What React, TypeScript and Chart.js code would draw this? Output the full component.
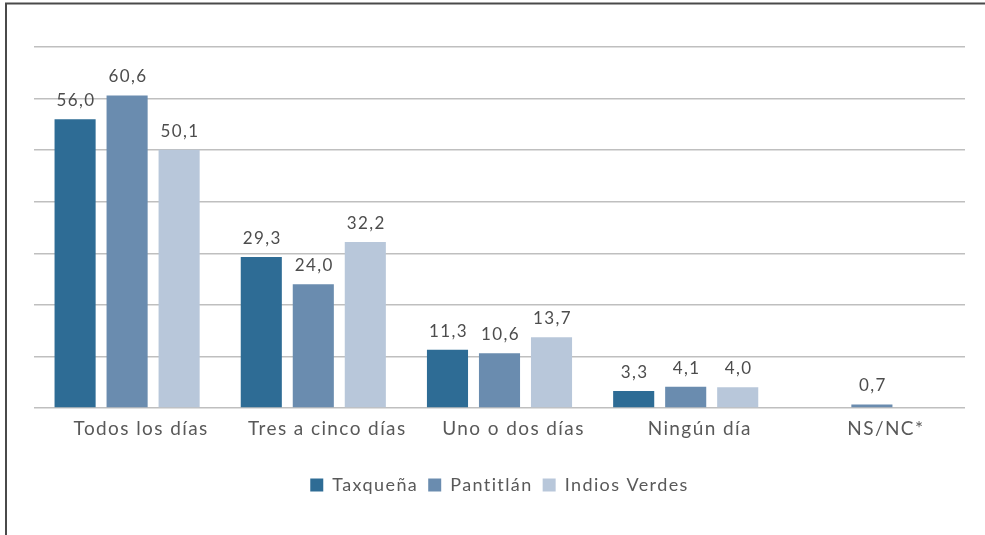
import React, { useEffect, useRef } from "react";
import { Chart, registerables } from "chart.js";

Chart.register(...registerables);

const categories = ["Todos los días", "Tres a cinco días", "Uno o dos días", "Ningún día", "NS/NC*"];
const taxquena = [56.0, 29.3, 11.3, 3.3, null];
const pantitlan = [60.6, 24.0, 10.6, 4.1, 0.7];
const indiosVerdes = [50.1, 32.2, 13.7, 4.0, null];
const seriesNames = ["Taxqueña", "Pantitlán", "Indios Verdes"];
const seriesColors = ["#2E6C95", "#6A8CAF", "#B8C7DA"];

const FONT = "Lato, 'Open Sans', sans-serif";
const SPACING = "1.4px";

const spacing = {
  id: "spacing",
  beforeUpdate(chart: any) {
    chart.ctx.letterSpacing = SPACING;
  },
  beforeLayout(chart: any) {
    chart.ctx.letterSpacing = SPACING;
  },
  beforeDraw(chart: any) {
    chart.ctx.letterSpacing = SPACING;
  },
};

const frame = {
  id: "frame",
  afterDraw(chart: any) {
    const ctx = chart.ctx;
    ctx.save();
    ctx.strokeStyle = "#4a4a4a";
    ctx.lineWidth = 2;
    ctx.beginPath();
    ctx.moveTo(6, 535);
    ctx.lineTo(6, 3.5);
    ctx.lineTo(985, 3.5);
    ctx.stroke();
    ctx.restore();
  },
};

const dataLabels = {
  id: "dataLabels",
  afterDatasetsDraw(chart: any) {
    const ctx = chart.ctx;
    ctx.save();
    ctx.letterSpacing = SPACING;
    ctx.font = `17px ${FONT}`;
    ctx.fillStyle = "#4d4d4d";
    ctx.textAlign = "center";
    ctx.textBaseline = "bottom";
    chart.data.datasets.forEach((ds: any, i: number) => {
      const meta = chart.getDatasetMeta(i);
      meta.data.forEach((el: any, j: number) => {
        const v = ds.data[j];
        if (v === null || v === undefined) return;
        const txt = v.toFixed(1).replace(".", ",");
        ctx.fillText(txt, el.x + 1, el.y - 10);
      });
    });
    ctx.restore();
  },
};

export default function App() {
  const ref = useRef<HTMLCanvasElement>(null);
  useEffect(() => {
    document.body.style.margin = "0";
    const chart = new Chart(ref.current!, {
      type: "bar",
      data: {
        labels: categories,
        datasets: [taxquena, pantitlan, indiosVerdes].map((d, i) => ({
          label: seriesNames[i],
          data: d as any,
          backgroundColor: seriesColors[i],
          categoryPercentage: 0.838,
          barPercentage: 0.79,
        })),
      },
      options: {
        animation: false,
        responsive: false,
        layout: { padding: { left: 34, right: 20, top: 47, bottom: 31 } },
        plugins: {
          tooltip: { enabled: false },
          legend: {
            position: "bottom",
            labels: {
              font: { family: FONT, size: 18 },
              color: "#595959",
              boxWidth: 13,
              boxHeight: 13,
              padding: 10,
            },
          },
        },
        scales: {
          x: {
            grid: { display: false },
            border: { display: false },
            ticks: {
              font: { family: FONT, size: 19 },
              color: "#595959",
              padding: 1,
              labelOffset: 14,
            },
            afterFit(scale: any) {
              scale.height = 58;
            },
          },
          y: {
            min: 0,
            max: 70,
            ticks: { display: false, stepSize: 10 },
            grid: { color: "#BFBFBF", lineWidth: 1.5, drawTicks: false },
            border: { display: false },
          },
        },
      },
      plugins: [spacing, frame, dataLabels],
    });
    return () => chart.destroy();
  }, []);
  return <canvas ref={ref} width={985} height={535} style={{ display: "block" }} />;
}
